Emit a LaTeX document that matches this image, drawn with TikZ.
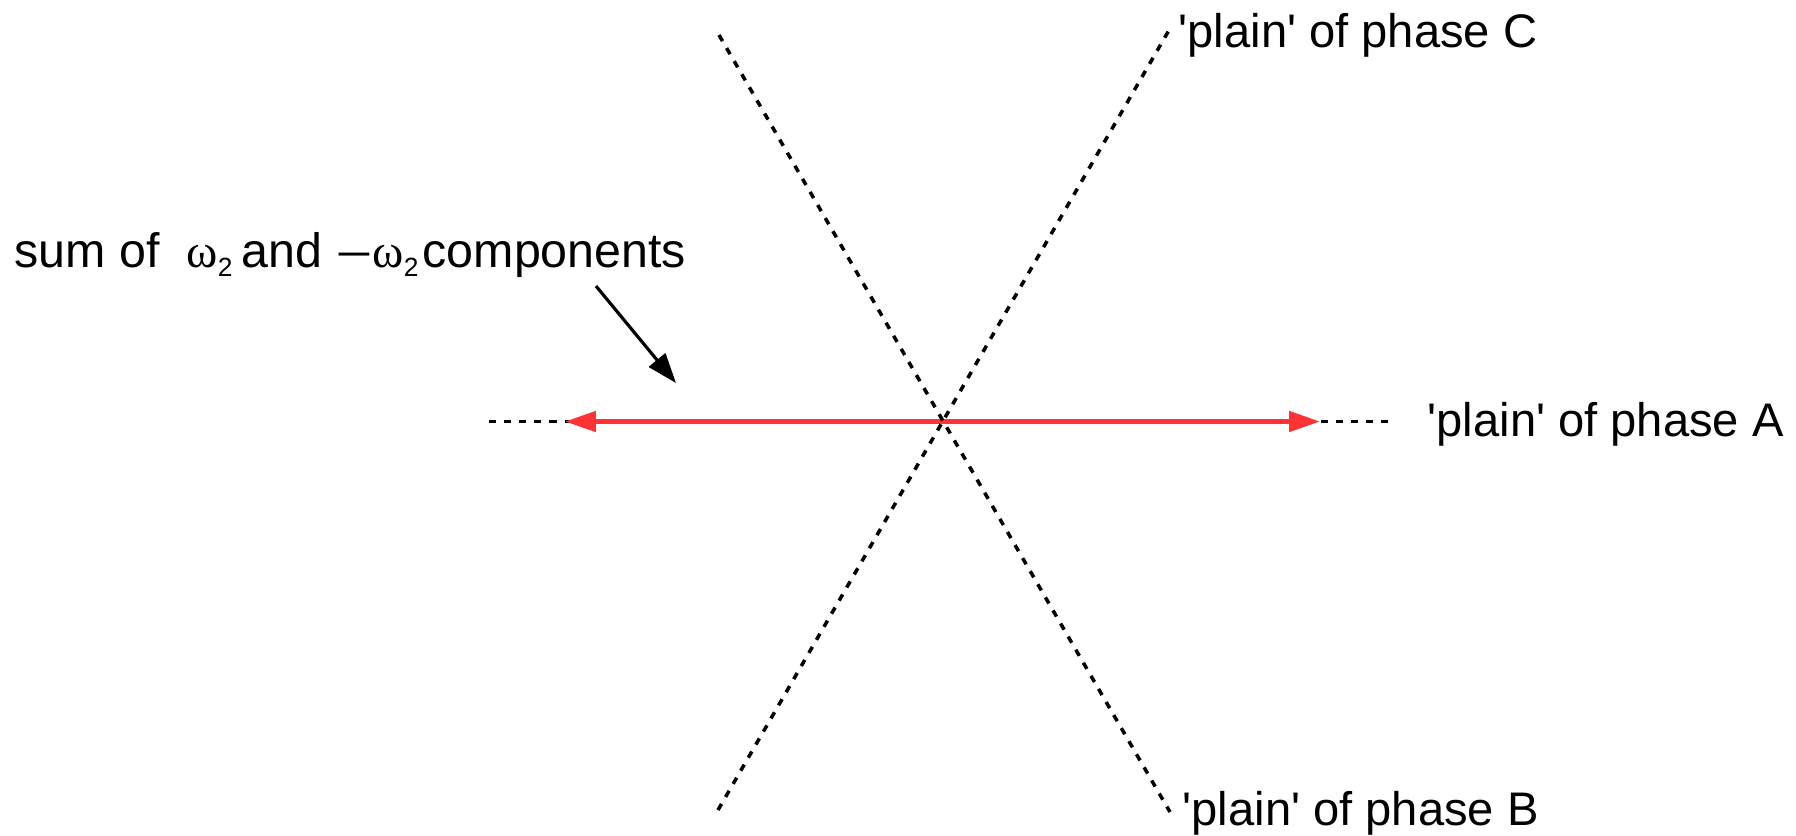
\documentclass[tikz,border=0pt]{standalone}
\usepackage{fontspec}
\setmainfont{Liberation Sans}
\newfontfamily\greekfont{Liberation Serif}
\usetikzlibrary{arrows.meta,positioning,calc}
\definecolor{phasered}{RGB}{255,51,51}
\newcommand{\wtwo}{{\greekfont\fontsize{13.5}{16}\selectfont ω}\raisebox{-2.8pt}{\fontsize{7.5}{9}\selectfont 2}}
\newcommand{\wminus}{\raisebox{-0.4pt}{\greekfont\fontsize{17}{18}\selectfont –}}

\begin{document}
\begin{tikzpicture}[x=0.01cm, y=-0.01cm,
  phaseline/.style={black, line width=1pt, dash pattern=on 2pt off 2.3pt},
  plaintext/.style={font=\fontsize{13.4}{16}\selectfont, inner sep=0pt, anchor=base west},
  sumarrow/.style={phasered, line width=1.3pt, {Triangle[length=8.8pt,width=5.7pt]}-{Triangle[length=8.8pt,width=5.7pt]}},
  pointer/.style={black, line width=0.9pt, -{Triangle[length=8.5pt,width=6pt]}}]
  \useasboundingbox (0,0) rectangle (1796,835);
  % the three phase planes
  \coordinate (O) at (943,421.5);
  \coordinate (Aleft) at (489,421.5);  \coordinate (Aright) at (1390,421.5);
  \coordinate (Btop) at (719,35);      \coordinate (Bbottom) at (1170,812);
  \coordinate (Cbottom) at (718,810);  \coordinate (Ctop) at (1172,25);
  \draw[phaseline] (Aleft) -- (Aright);
  % resulting component
  \coordinate (sumleft) at (565,421.5); \coordinate (sumright) at (1320,421.5);
  \draw[sumarrow] (sumleft) -- (sumright);
  \draw[phaseline] (Btop) -- (Bbottom);
  \draw[phaseline] (Cbottom) -- (Ctop);
  % labels
  \node[plaintext] (phaseA) at (1427,436.7) {\textquotesingle plain\textquotesingle{} of phase A};
  \node[plaintext] (phaseC) at (1178,47) {\textquotesingle plain\textquotesingle{} of phase C};
  \node[plaintext] (phaseB) at (1182,825) {\textquotesingle plain\textquotesingle{} of phase B};
  \node[plaintext, font=\fontsize{13.75}{16}\selectfont] (sum) at (14,267) {sum of\hspace{7.6pt}\wtwo\hspace{2.6pt}and\hspace{5pt}\wminus\hspace{0.8pt}\wtwo\hspace{1.2pt}components};
  \coordinate (sumtail) at (596,286); \coordinate (sumtip) at (676,383);
  \draw[pointer] (sumtail) -- (sumtip);
\end{tikzpicture}
\end{document}
